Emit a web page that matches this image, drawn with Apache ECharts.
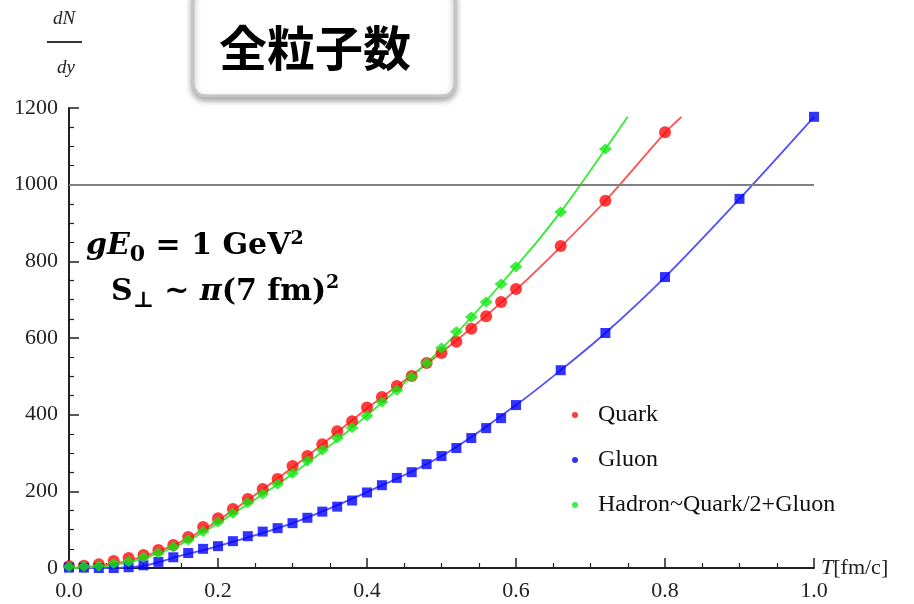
<!DOCTYPE html>
<html><head><meta charset="utf-8">
<script src="https://cdn.jsdelivr.net/npm/echarts@6/dist/echarts.min.js"></script>
<style>html,body{margin:0;padding:0;background:#fff}#c{width:914px;height:604px}</style>
</head><body><div id="c"></div>
<script>
// ---- data ----
const tDense = [0, 0.02, 0.04, 0.06, 0.08, 0.10, 0.12, 0.14, 0.16, 0.18, 0.20, 0.22, 0.24, 0.26, 0.28, 0.30,
  0.32, 0.34, 0.36, 0.38, 0.40, 0.42, 0.44, 0.46, 0.48, 0.50, 0.52, 0.54, 0.56, 0.58, 0.60];
const quarkDense = [5, 6, 10, 18, 26, 34, 47, 60, 81, 107, 130, 154, 180, 206, 232, 266,
  292, 323, 357, 383, 419, 446, 475, 501, 535, 561, 590, 624, 657, 694, 728];
const gluonDense = [1, 1, 0, 0, 2, 7, 16, 28, 39, 50, 57, 70, 83, 95, 104, 117,
  131, 147, 160, 176, 197, 216, 235, 250, 271, 292, 313, 339, 365, 391, 425];
const hadronDense = [3, 4, 5, 12, 17, 28, 39, 55, 73, 95, 120, 143, 170, 193, 219, 247,
  279, 308, 339, 366, 397, 433, 464, 498, 535, 574, 616, 655, 694, 741, 786];
const quarkSparseT = [0.66, 0.72, 0.80];
const quarkSparse = [840, 958, 1137];
const gluonSparseT = [0.66, 0.72, 0.80, 0.90, 1.00];
const gluonSparse = [516, 613, 759, 963, 1177];
const hadronSparseT = [0.66, 0.72];
const hadronSparse = [929, 1093];
// fitted curves
const quarkFitT = [0, 0.05, 0.10, 0.15, 0.20, 0.30, 0.40, 0.50, 0.60, 0.66, 0.72, 0.80, 0.822];
const quarkFit = [0, 8, 30, 68, 124, 262, 416, 562, 726, 838, 958, 1135, 1177];
const gluonFitT = [0, 0.05, 0.10, 0.15, 0.20, 0.30, 0.40, 0.50, 0.60, 0.66, 0.72, 0.80, 0.90, 1.00];
const gluonFit = [0, 0, 6, 32, 57, 117, 198, 292, 425, 516, 613, 759, 963, 1177];
const hadronFitT = [0, 0.05, 0.10, 0.15, 0.20, 0.30, 0.40, 0.50, 0.60, 0.66, 0.72, 0.75];
const hadronFit = [0, 5, 25, 62, 117, 245, 398, 572, 786, 929, 1093, 1177];
const refLevel = 1000;
const seriesNames = ['Quark', 'Gluon', 'Hadron~Quark/2+Gluon'];
const xTickLabels = ['0.0', '0.2', '0.4', '0.6', '0.8', '1.0'];
const yTickLabels = ['0', '200', '400', '600', '800', '1000', '1200'];
const titleText = '全粒子数';

// ---- build ----
const pairs = (ts, vs) => ts.map((t, i) => [t, vs[i]]);
const serif = 'Liberation Serif';
const mathFont = 'DejaVu Serif';

const chart = echarts.init(document.getElementById('c'), null, {renderer: 'canvas'});
const option = {
  backgroundColor: '#fff',
  animation: false,
  grid: {left: 69, right: 100, top: 108, bottom: 36, containLabel: false, outerBoundsMode: 'none'},
  legend: {
    orient: 'vertical', left: 567, top: 397, itemGap: 19,
    itemWidth: 36, itemHeight: 6,
    textStyle: {fontFamily: serif, fontSize: 24, color: '#111', lineHeight: 26},
    data: seriesNames.map(n => ({name: n, icon: 'circle'}))
  },
  xAxis: {
    type: 'value', min: 0, max: 1, interval: 0.2,
    axisLine: {show: true, onZero: false, lineStyle: {color: '#222', width: 2}},
    axisTick: {show: true, inside: true, length: 10, lineStyle: {color: '#222', width: 1.5}},
    minorTick: {show: true, splitNumber: 4, length: 5, lineStyle: {color: '#222', width: 1.2}},
    splitLine: {show: false},
    axisLabel: {formatter: (v, i) => xTickLabels[i], fontFamily: serif, fontSize: 22, color: '#222', margin: 12},
    name: '{i|T}[fm/c]', nameLocation: 'end', nameGap: 7,
    nameTextStyle: {fontFamily: serif, fontSize: 22, color: '#222', verticalAlign: 'middle',
      rich: {i: {fontFamily: serif, fontStyle: 'italic', fontSize: 22, color: '#222'}}}
  },
  yAxis: {
    type: 'value', min: 0, max: 1200, interval: 200,
    axisLine: {show: true, onZero: false, lineStyle: {color: '#222', width: 2}},
    axisTick: {show: true, inside: true, length: 10, lineStyle: {color: '#222', width: 1.5}},
    minorTick: {show: true, splitNumber: 4, length: 5, lineStyle: {color: '#222', width: 1.2}},
    splitLine: {show: false},
    axisLabel: {formatter: (v, i) => yTickLabels[i], fontFamily: serif, fontSize: 22, color: '#222', margin: 11}
  },
  series: [
    {type: 'line', name: 'quarkFit', data: pairs(quarkFitT, quarkFit), smooth: 0.35, showSymbol: false,
      lineStyle: {color: '#ff5050', width: 1.8}, silent: true, z: 2},
    {type: 'line', name: 'gluonFit', data: pairs(gluonFitT, gluonFit), smooth: 0.35, showSymbol: false,
      lineStyle: {color: '#5050ff', width: 1.8}, silent: true, z: 2,
      markLine: {silent: true, symbol: 'none', label: {show: false},
        lineStyle: {color: '#808080', width: 2, type: 'solid'}, data: [{yAxis: refLevel}]}},
    {type: 'line', name: 'hadronFit', data: pairs(hadronFitT, hadronFit), smooth: 0.35, showSymbol: false,
      lineStyle: {color: '#30ee30', width: 1.8}, silent: true, z: 2},
    {type: 'scatter', name: seriesNames[0], data: pairs(tDense.concat(quarkSparseT), quarkDense.concat(quarkSparse)),
      symbol: 'circle', symbolSize: 12, itemStyle: {color: '#ff0a0a'}, z: 3},
    {type: 'scatter', name: seriesNames[1], data: pairs(tDense.concat(gluonSparseT), gluonDense.concat(gluonSparse)),
      symbol: 'rect', symbolSize: 10, itemStyle: {color: '#0000ff'}, z: 3},
    {type: 'scatter', name: seriesNames[2], data: pairs(tDense.concat(hadronSparseT), hadronDense.concat(hadronSparse)),
      symbol: 'diamond', symbolSize: [13, 11], itemStyle: {color: '#14e814'}, z: 4}
  ],
  graphic: [
    {type: 'rect', shape: {x: 193, y: -14, width: 262, height: 110, r: 12},
      style: {fill: '#fff', stroke: '#c4c4c4', lineWidth: 3, shadowBlur: 6, shadowColor: 'rgba(0,0,0,0.35)', shadowOffsetY: 3}, z: 10},
    {type: 'text', x: 315, y: 48, z: 11,
      style: {text: titleText, fontFamily: 'Noto Sans CJK JP', fontWeight: 'bold', fontSize: 48, fill: '#000', align: 'center', verticalAlign: 'middle'}},
    {type: 'text', x: 64, y: 19, z: 11,
      style: {text: 'dN', fontFamily: serif, fontStyle: 'italic', fontSize: 19, fill: '#222', align: 'center', verticalAlign: 'middle'}},
    {type: 'line', shape: {x1: 47, y1: 42, x2: 82, y2: 42}, style: {stroke: '#333', lineWidth: 1.8}, z: 11},
    {type: 'text', x: 66, y: 68, z: 11,
      style: {text: 'dy', fontFamily: serif, fontStyle: 'italic', fontSize: 19, fill: '#222', align: 'center', verticalAlign: 'middle'}},
    {type: 'text', x: 86, y: 246, z: 11,
      style: {text: '{i|gE}{sub|0}{n| = 1 GeV}{sup|2}', align: 'left', verticalAlign: 'middle',
        rich: {
          i: {fontFamily: mathFont, fontStyle: 'italic', fontWeight: 'bold', fontSize: 30, lineHeight: 40, fill: '#000'},
          n: {fontFamily: mathFont, fontWeight: 'bold', fontSize: 30, lineHeight: 40, fill: '#000'},
          sub: {fontFamily: mathFont, fontWeight: 'bold', fontSize: 22, fill: '#000', verticalAlign: 'bottom'},
          sup: {fontFamily: mathFont, fontWeight: 'bold', fontSize: 19, fill: '#000', verticalAlign: 'top', padding: [4, 0, 0, 0]}
        }}},
    {type: 'text', x: 111, y: 292, z: 11,
      style: {text: '{n|S}{sub|⊥}{n| ~ }{i|π}{n|(7 fm)}{sup|2}', align: 'left', verticalAlign: 'middle',
        rich: {
          i: {fontFamily: mathFont, fontStyle: 'italic', fontWeight: 'bold', fontSize: 30, lineHeight: 40, fill: '#000'},
          n: {fontFamily: mathFont, fontWeight: 'bold', fontSize: 30, lineHeight: 40, fill: '#000'},
          sub: {fontFamily: mathFont, fontWeight: 'bold', fontSize: 22, fill: '#000', verticalAlign: 'bottom'},
          sup: {fontFamily: mathFont, fontWeight: 'bold', fontSize: 19, fill: '#000', verticalAlign: 'top', padding: [2, 0, 0, 0]}
        }}}
  ]
};
chart.setOption(option);
</script></body></html>
